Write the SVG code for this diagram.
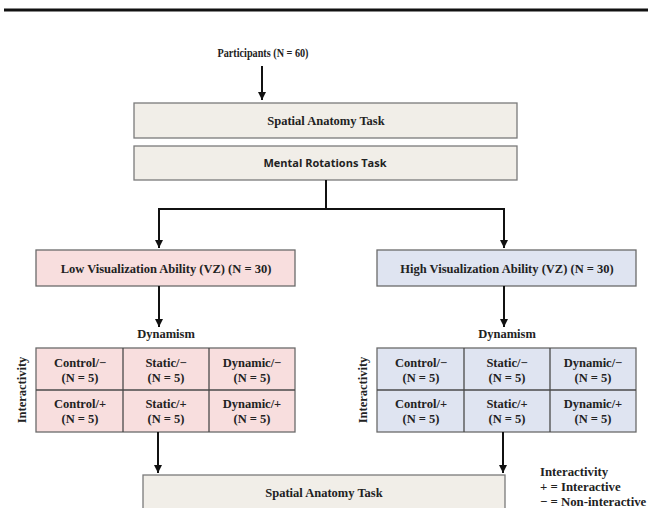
<svg xmlns="http://www.w3.org/2000/svg" width="648" height="508" viewBox="0 0 648 508">
<defs>
<marker id="ah" viewBox="0 0 10 10" refX="10" refY="5" markerWidth="8" markerHeight="8" markerUnits="userSpaceOnUse" orient="auto">
<path d="M0,0 L10,5 L0,10 z" fill="#111"/>
</marker>
<style>
.t{font-family:"Liberation Serif","Times New Roman",serif;font-weight:bold;font-size:12.5px;fill:#222;text-anchor:middle}
.s{font-family:"Open Sans","Liberation Sans",sans-serif;font-weight:bold;font-size:11px;fill:#222;text-anchor:middle}
.lg{font-family:"Liberation Serif","Times New Roman",serif;font-weight:bold;font-size:12.8px;fill:#222}
.beige{fill:#f1eee8;stroke:#7a7a7a;stroke-width:1.3}
.pink{fill:#f8dede;stroke:#6a6a6a;stroke-width:1.3}
.blue{fill:#dfe4f1;stroke:#6a6a6a;stroke-width:1.3}
.c{stroke:#111;stroke-width:2;fill:none}
.ca{stroke:#111;stroke-width:2;fill:none;marker-end:url(#ah)}
.div{stroke:#4a4a4a;stroke-width:1.3}
</style>
</defs>
<rect width="648" height="508" fill="#fff"/>
<line x1="4" y1="10" x2="648" y2="10" stroke="#111" stroke-width="3"/>

<g id="participants"><text class="t" x="263" y="57" textLength="91" lengthAdjust="spacingAndGlyphs">Participants (N = 60)</text></g>

<g id="spatial1"><rect class="beige" x="134" y="103" width="383" height="35"/><text class="t" x="326" y="125">Spatial Anatomy Task</text></g>
<g id="mental"><rect class="beige" x="134" y="146" width="383" height="34"/><text class="s" x="325" y="167">Mental Rotations Task</text></g>

<g id="low"><rect class="pink" x="36" y="250" width="259" height="36"/><text class="t" x="166" y="273">Low Visualization Ability (VZ) (N = 30)</text></g>
<g id="high"><rect class="blue" x="377" y="250" width="259" height="36"/><text class="t" x="507" y="273">High Visualization Ability (VZ) (N = 30)</text></g>

<g id="dyn-low"><text class="t" x="166" y="338">Dynamism</text></g>
<g id="dyn-high"><text class="t" x="507" y="338">Dynamism</text></g>
<g id="int-low"><text class="t" transform="translate(26,390) rotate(-90)">Interactivity</text></g>
<g id="int-high"><text class="t" transform="translate(367,390) rotate(-90)">Interactivity</text></g>

<g id="grid-low">
<rect class="pink" x="36" y="348" width="259" height="84"/>
<line class="div" x1="123" y1="348" x2="123" y2="432"/>
<line class="div" x1="209" y1="348" x2="209" y2="432"/>
<line class="div" x1="36" y1="390" x2="295" y2="390"/>
<text class="t" x="80" y="367">Control/−</text><text class="t" x="80" y="382">(N = 5)</text>
<text class="t" x="166" y="367">Static/−</text><text class="t" x="166" y="382">(N = 5)</text>
<text class="t" x="252" y="367">Dynamic/−</text><text class="t" x="252" y="382">(N = 5)</text>
<text class="t" x="80" y="408">Control/+</text><text class="t" x="80" y="423">(N = 5)</text>
<text class="t" x="166" y="408">Static/+</text><text class="t" x="166" y="423">(N = 5)</text>
<text class="t" x="252" y="408">Dynamic/+</text><text class="t" x="252" y="423">(N = 5)</text>
</g>

<g id="grid-high">
<rect class="blue" x="377" y="348" width="259" height="84"/>
<line class="div" x1="464" y1="348" x2="464" y2="432"/>
<line class="div" x1="550" y1="348" x2="550" y2="432"/>
<line class="div" x1="377" y1="390" x2="636" y2="390"/>
<text class="t" x="421" y="367">Control/−</text><text class="t" x="421" y="382">(N = 5)</text>
<text class="t" x="507" y="367">Static/−</text><text class="t" x="507" y="382">(N = 5)</text>
<text class="t" x="593" y="367">Dynamic/−</text><text class="t" x="593" y="382">(N = 5)</text>
<text class="t" x="421" y="408">Control/+</text><text class="t" x="421" y="423">(N = 5)</text>
<text class="t" x="507" y="408">Static/+</text><text class="t" x="507" y="423">(N = 5)</text>
<text class="t" x="593" y="408">Dynamic/+</text><text class="t" x="593" y="423">(N = 5)</text>
</g>

<g id="spatial2"><rect class="beige" x="143" y="475" width="362" height="40"/><text class="t" x="324" y="497">Spatial Anatomy Task</text></g>

<g id="legend">
<text class="lg" x="540" y="476">Interactivity</text>
<text class="lg" x="540" y="491">+ = Interactive</text>
<text class="lg" x="540" y="506">− = Non-interactive</text>
</g>

<g id="connectors">
<line class="ca" x1="262" y1="66" x2="262" y2="100"/>
<polyline class="c" points="326,180 326,209"/>
<polyline class="ca" points="159,209 159,248"/>
<polyline class="ca" points="504,209 504,248"/>
<line class="c" x1="158" y1="209" x2="505" y2="209"/>
<line class="ca" x1="159" y1="286" x2="159" y2="327"/>
<line class="ca" x1="504" y1="286" x2="504" y2="327"/>
<line class="ca" x1="158" y1="432" x2="158" y2="473"/>
<line class="ca" x1="503" y1="432" x2="503" y2="473"/>
</g>
</svg>
